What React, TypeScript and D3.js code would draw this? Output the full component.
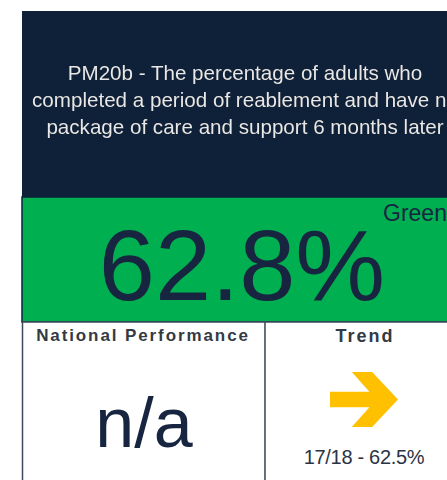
import React from "react";
import * as d3 from "d3";

const titleLines = [
  "PM20b - The percentage of adults who",
  "completed a period of reablement and have no",
  "package of care and support 6 months later",
];
const mainValue = [62.8];
const ragStatus = ["Green"];
const nationalLabel = ["National Performance"];
const nationalValue = ["n/a"];
const trendLabel = ["Trend"];
const trendDirection = ["flat"];
const previousPeriod = ["17/18"];
const previousValue = [62.5];

const W = 447;
const H = 480;
const NAVY = "#0f2139";
const GREEN = "#00b050";
const TEXT_DARK = "#172540";
const AMBER = "#ffc000";
const FONT = "Liberation Sans, Arial, sans-serif";

// arrow icon in unit coordinates
const arrowUnit: [number, number][] = [
  [0, 0.36], [0.58, 0.36], [0.32, 0], [0.62, 0], [1, 0.5],
  [0.62, 1], [0.32, 1], [0.58, 0.64], [0, 0.64],
];

export default function App() {
  const left = 22;
  const right = 466;
  const topY = 11;
  const greenTop = 197;
  const greenBottom = 322;
  const divX = 265;

  const fmt = d3.format(".1f");
  const ax = d3.scaleLinear().domain([0, 1]).range([330, 398]);
  const ay = d3.scaleLinear().domain([0, 1]).range([372, 427]);
  const arrowPath = d3.line()(arrowUnit.map(([x, y]) => [ax(x), ay(y)])) + "Z";

  return (
    <svg
      width={W}
      height={H}
      style={{ position: "absolute", left: 0, top: 0, display: "block" }}
      fontFamily={FONT}
    >
      <rect x={0} y={0} width={W} height={H} fill="#ffffff" />
      <rect x={left} y={topY} width={right - left} height={greenTop - topY} fill={NAVY} />
      {titleLines.map((t, i) => (
        <text
          key={i}
          x={245}
          y={80 + i * 27}
          textAnchor="middle"
          fontSize={20.6}
          fill="#e8e8e8"
          style={{ filter: "drop-shadow(0.6px 0.6px 0.6px rgba(0,0,0,0.7))" }}
        >
          {t}
        </text>
      ))}
      <rect x={left} y={greenTop} width={right - left} height={greenBottom - greenTop} fill={GREEN} stroke={NAVY} strokeWidth={1.5} />
      <text x={242} y={300} textAnchor="middle" fontSize={101} fill={TEXT_DARK}>
        {fmt(mainValue[0]) + "%"}
      </text>
      <text x={383} y={221} fontSize={23} fill={TEXT_DARK}>
        {ragStatus[0]}
      </text>
      <rect x={left + 0.5} y={greenBottom} width={divX - left} height={H - greenBottom + 5} fill="#ffffff" stroke="#3d4a5e" strokeWidth={1.5} />
      <rect x={divX} y={greenBottom} width={right - divX} height={H - greenBottom + 5} fill="#ffffff" stroke="#3d4a5e" strokeWidth={1.5} />
      <text x={143} y={341} textAnchor="middle" fontSize={17} fontWeight="bold" letterSpacing={1.9} fill="#333a44">
        {nationalLabel[0]}
      </text>
      <text x={144} y={447} textAnchor="middle" fontSize={70} fill={TEXT_DARK}>
        {nationalValue[0]}
      </text>
      <text x={365} y={342} textAnchor="middle" fontSize={18} fontWeight="bold" letterSpacing={2} fill="#333a44">
        {trendLabel[0]}
      </text>
      {trendDirection[0] === "flat" && <path d={arrowPath} fill={AMBER} />}
      <text x={364} y={464} textAnchor="middle" fontSize={20} letterSpacing={-0.3} fill="#2a3344">
        {previousPeriod[0] + " - " + fmt(previousValue[0]) + "%"}
      </text>
    </svg>
  );
}
